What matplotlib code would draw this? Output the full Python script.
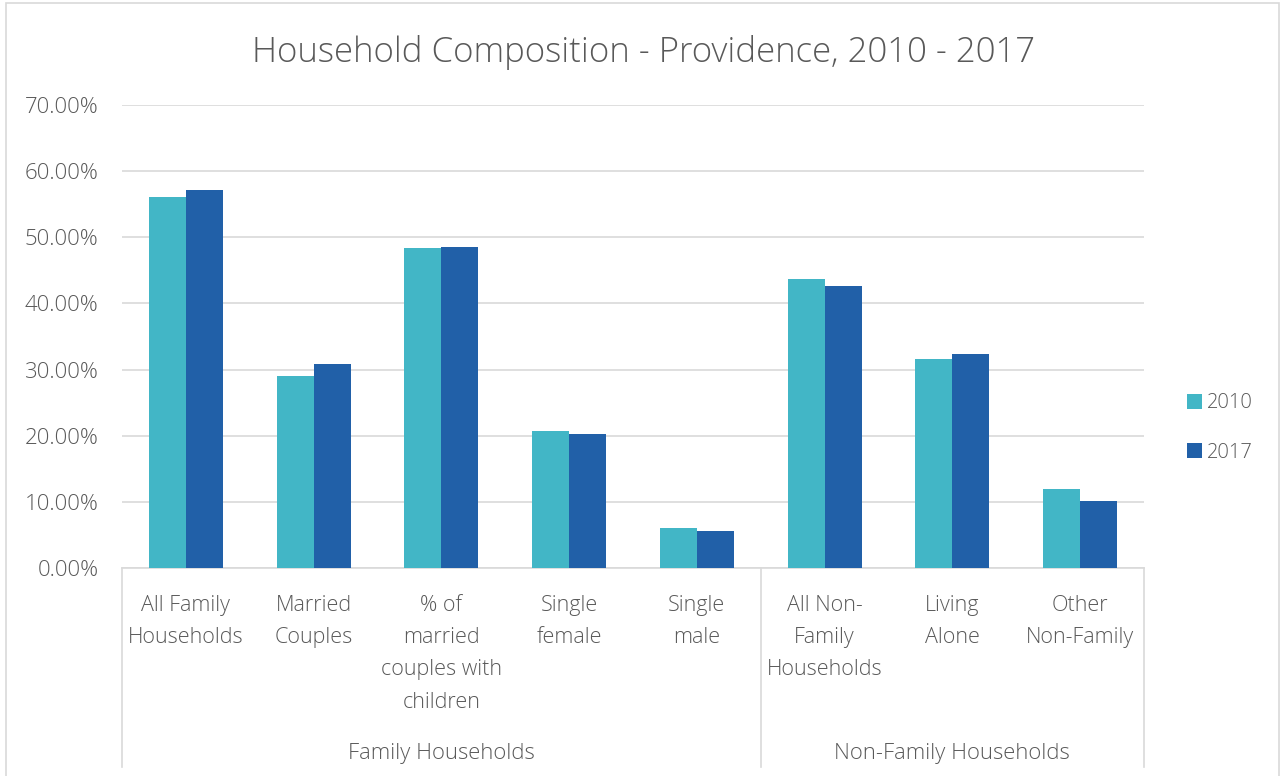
import matplotlib
matplotlib.use("Agg")
import matplotlib.pyplot as plt
import matplotlib.transforms as mtransforms
from matplotlib.lines import Line2D
from matplotlib.patches import Rectangle
import numpy as np

# data
categories = ["All Family\nHouseholds", "Married\nCouples", "% of\nmarried\ncouples with\nchildren",
              "Single\nfemale", "Single\nmale", "All Non-\nFamily\nHouseholds", "Living\nAlone",
              "Other\nNon-Family"]
groups = ["Family Households", "Non-Family Households"]
group_sizes = [5, 3]
vals_2010 = [0.561, 0.290, 0.484, 0.207, 0.061, 0.437, 0.316, 0.120]
vals_2017 = [0.572, 0.309, 0.485, 0.203, 0.056, 0.427, 0.324, 0.102]
years = ["2010", "2017"]

c2010 = "#42b6c6"
c2017 = "#2160a8"
grey = "#595959"
line_c = "#d9d9d9"

plt.rcParams["font.family"] = ["Open Sans", "DejaVu Sans"]
plt.rcParams["font.weight"] = "light"

fig = plt.figure(figsize=(12.81, 7.76), dpi=100)
ax = fig.add_axes([122 / 1281, 1 - 568 / 776, (1144 - 122) / 1281, 463 / 776])

x = np.arange(len(categories))
w = 0.29
ax.bar(x - w / 2, vals_2010, w, color=c2010, label=years[0], zorder=3)
ax.bar(x + w / 2, vals_2017, w, color=c2017, label=years[1], zorder=3)

ax.set_xlim(-0.5, len(categories) - 0.5)
ax.set_ylim(0, 0.7)
ax.set_yticks(np.arange(0, 0.71, 0.1))
ax.set_yticklabels([f"{v * 100:.2f}%" for v in np.arange(0, 0.71, 0.1)])
ax.yaxis.grid(True, color=line_c, linewidth=1.2, zorder=0)
ax.set_axisbelow(True)
for s in ["top", "right", "left"]:
    ax.spines[s].set_visible(False)
ax.spines["bottom"].set_color(line_c)
ax.spines["bottom"].set_linewidth(1.2)

ax.set_xticks(x)
ax.set_xticklabels(categories, linespacing=1.7)
ax.tick_params(axis="x", length=0, pad=19.5, labelsize=15.5, labelcolor=grey)
ax.tick_params(axis="y", length=0, pad=17, labelsize=16, labelcolor=grey)

# category group frame lines and labels
trans = mtransforms.blended_transform_factory(ax.transData, ax.transAxes)
ybot = -(767 - 568) / 463
edges = [-0.5]
for n in group_sizes:
    edges.append(edges[-1] + n)
for e in edges:
    ax.add_line(Line2D([e, e], [0, ybot], transform=trans, color=line_c,
                       linewidth=1.2, clip_on=False))
for i, g in enumerate(groups):
    ax.text((edges[i] + edges[i + 1]) / 2, -(753 - 568) / 463, g, transform=trans,
            ha="center", va="center", fontsize=15.8, color=grey)

fig.text(643 / 1281, 1 - 53 / 776, "Household Composition - Providence, 2010 - 2017",
         ha="center", va="center", fontsize=25, color=grey)

leg = ax.legend(loc="center left", bbox_to_anchor=(1169 / 1281, 1 - 428 / 776),
                bbox_transform=fig.transFigure, frameon=False, fontsize=14.5,
                handlelength=0.75, handleheight=0.75, handletextpad=0.25, labelspacing=1.45)
for t in leg.get_texts():
    t.set_color(grey)

# outer chart border
fig.patches.append(Rectangle((6 / 1281, -0.01), 1273 / 1281, 1 - 3 / 776 + 0.01,
                             transform=fig.transFigure, fill=False,
                             edgecolor=line_c, linewidth=1.2))

fig.savefig("out.png", dpi=100)
